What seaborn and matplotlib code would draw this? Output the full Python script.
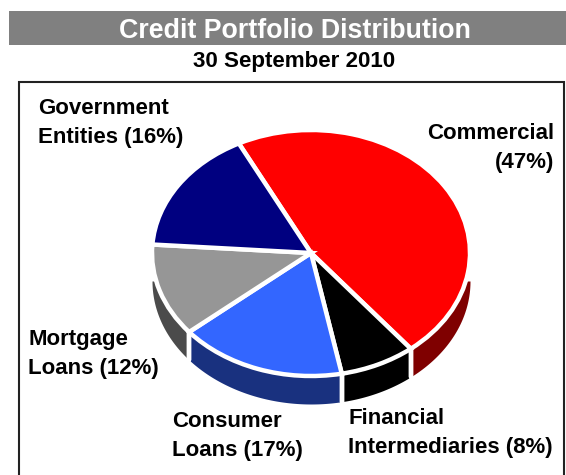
#!/usr/bin/python3
# coding=utf-8
import numpy as np
import matplotlib
matplotlib.use("Agg")
import matplotlib.pyplot as plt
import seaborn as sns

W, H = 566, 475

categories = ["Commercial", "Financial Intermediaries", "Consumer Loans", "Mortgage Loans", "Government Entities"]
shares = [46.7, 7.7, 17.0, 12.2, 16.4]
top_colors = ["#ff0000", "#000000", "#3366ff", "#969696", "#000080"]
side_colors = ["#7f0000", "#000000", "#19317f", "#4b4b4b", "#000040"]

# labels are placed by hand, (left or right x, middle y)
labels = [
    ("Commercial\n(47%)", 554, 148, "right"),
    ("Financial\nIntermediaries (8%)", 348, 433, "left"),
    ("Consumer\nLoans (17%)", 172, 436, "left"),
    ("Mortgage\nLoans (12%)", 28, 354, "left"),
    ("Government\nEntities (16%)", 38, 123, "left"),
]

CX, CY, RX, RY = 311, 253, 159, 123
DEPTH = 28
START = 117

sns.set_theme(style="white")
plt.rcParams["font.family"] = ["Liberation Sans", "DejaVu Sans"]


def px(x, y):
    return x / W, 1 - y / H


fig = plt.figure(figsize=(W / 100, H / 100), dpi=100)
ax = fig.add_axes([0, 0, 1, 1])
ax.patch.set_visible(False)

# header bar and frame, behind the axes
fig.add_artist(plt.Rectangle(px(9, 45), (W - 9) / W, 34 / H, color="#808080", lw=0, zorder=-1))
fig.add_artist(plt.Rectangle(px(19, 490), (564 - 19) / W, (490 - 82) / H, fc="white", ec="#222222", lw=1.5, zorder=-1))
fig.text(*px(294.5, 31), "Credit Portfolio Distribution", color="white", fontsize=19.3,
         fontweight="bold", ha="center", va="center")
fig.text(*px(294.5, 62), "30 September 2010", color="black", fontsize=16.1,
         fontweight="bold", ha="center", va="center")

wedges, _ = ax.pie(shares, colors=top_colors, startangle=START, counterclock=False,
                   radius=1, wedgeprops={"edgecolor": "white", "linewidth": 3.2, "zorder": 5})
ax.set_aspect("auto")
ax.set_xlim(-CX / RX, (W - CX) / RX)
ax.set_ylim((CY - H) / RY, CY / RY)

# side wall of the pie, lower half of the shifted ellipse only
depth = DEPTH / RY
edges = START - np.cumsum([0] + shares) * 3.6
for i in range(len(shares)):
    hi, lo = edges[i], edges[i + 1]
    lo2, hi2 = max(lo, -180), min(hi, 0)
    if lo2 >= hi2:
        continue
    t = np.radians(np.linspace(lo2, hi2, 80))
    upper = np.minimum(np.sin(t), -depth)
    ax.fill_between(np.cos(t), np.sin(t) - depth, upper, color=side_colors[i], lw=0, zorder=2)
    for a in (lo2, hi2):
        if -180 < a < 0:
            r = np.radians(a)
            ax.plot([np.cos(r)] * 2, [np.sin(r) - depth, np.sin(r)], color="white", lw=3.2, zorder=3)

for text, x, y, ha in labels:
    fig.text(*px(x, y), text, color="black", fontsize=16, fontweight="bold",
             ha=ha, va="center", linespacing=1.45)

fig.savefig("out.png", dpi=100)
